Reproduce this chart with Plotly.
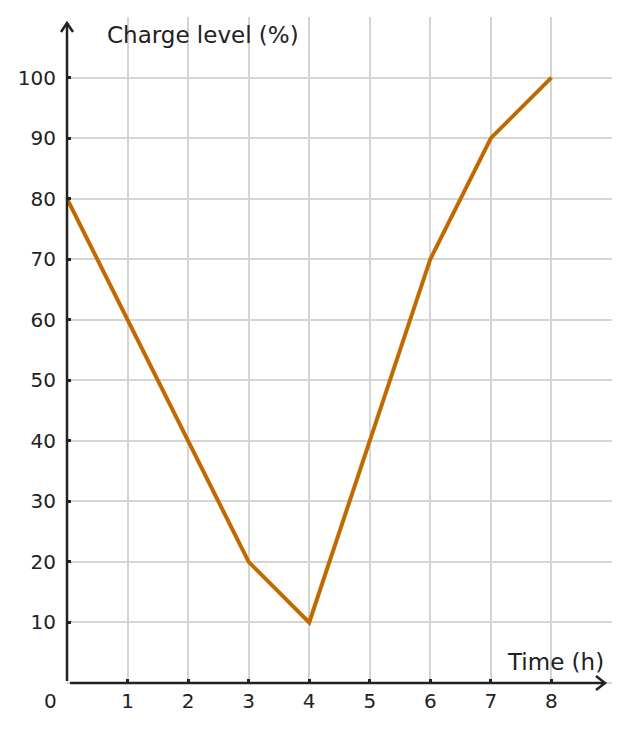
import plotly.graph_objects as go

time_h = [0, 1, 2, 3, 4, 5, 6, 7, 8]
charge = [80, 60, 40, 20, 10, 40, 70, 90, 100]
x_ticks = [1, 2, 3, 4, 5, 6, 7, 8]
y_ticks = [10, 20, 30, 40, 50, 60, 70, 80, 90, 100]

W, H = 629, 731
L, R, T, B = 67, 17, 17, 48
PW, PH = W - L - R, H - T - B

def px(x):
    return (x - L) / PW

def py(y):
    return (H - B - y) / PH

FONT = "DejaVu Sans"
AX = "#222222"

fig = go.Figure()
fig.add_trace(go.Scatter(x=time_h, y=charge, mode="lines",
                         line=dict(color="#c06a00", width=4),
                         cliponaxis=False, showlegend=False))

fig.update_layout(
    width=W, height=H,
    margin=dict(l=L, r=R, t=T, b=B),
    paper_bgcolor="white", plot_bgcolor="white",
    font=dict(family=FONT, color=AX, size=20),
    xaxis=dict(range=[0, 9], tickvals=x_ticks, showgrid=True, gridcolor="#d5d5d5",
               gridwidth=2, zeroline=False, showline=False, ticks="inside",
               ticklen=4, tickwidth=2.5, tickcolor=AX, ticklabelstandoff=4,
               tickfont=dict(size=20, family=FONT, color=AX)),
    yaxis=dict(range=[0, 110], tickvals=y_ticks, showgrid=True, gridcolor="#d5d5d5",
               gridwidth=2, zeroline=False, showline=False, ticks="inside",
               ticklen=4, tickwidth=2.5, tickcolor=AX, ticklabelstandoff=10,
               tickfont=dict(size=20, family=FONT, color=AX)),
)

# baseline gridline at y=0
fig.add_shape(type="line", xref="paper", yref="paper", x0=0, x1=1, y0=0, y1=0,
              line=dict(color="#d5d5d5", width=2), layer="below")

# axis lines with chevron arrows
fig.add_shape(type="line", xref="paper", yref="paper",
              x0=px(70), x1=px(604), y0=py(683), y1=py(683),
              line=dict(color=AX, width=2.5))
fig.add_shape(type="line", xref="paper", yref="paper",
              x0=px(67), x1=px(67), y0=py(681), y1=py(23),
              line=dict(color=AX, width=2.5))
fig.add_shape(type="path", xref="paper", yref="paper",
              path=f"M {px(596)} {py(676)} L {px(605)} {py(683)} L {px(596)} {py(690)}",
              line=dict(color=AX, width=2.5))
fig.add_shape(type="path", xref="paper", yref="paper",
              path=f"M {px(61)} {py(32)} L {px(67)} {py(23)} L {px(73)} {py(32)}",
              line=dict(color=AX, width=2.5))

fig.add_annotation(text="Charge level (%)", xref="paper", yref="paper",
                   x=px(105), y=py(35), xanchor="left", yanchor="middle",
                   showarrow=False, font=dict(size=23, family=FONT, color=AX))
fig.add_annotation(text="Time (h)", xref="paper", yref="paper",
                   x=px(606), y=py(662), xanchor="right", yanchor="middle",
                   showarrow=False, font=dict(size=23, family=FONT, color=AX))
fig.add_annotation(text="0", xref="paper", yref="paper",
                   x=px(50), y=py(701), xanchor="center", yanchor="middle",
                   showarrow=False, font=dict(size=20, family=FONT, color=AX))

fig.write_html("out.html")
